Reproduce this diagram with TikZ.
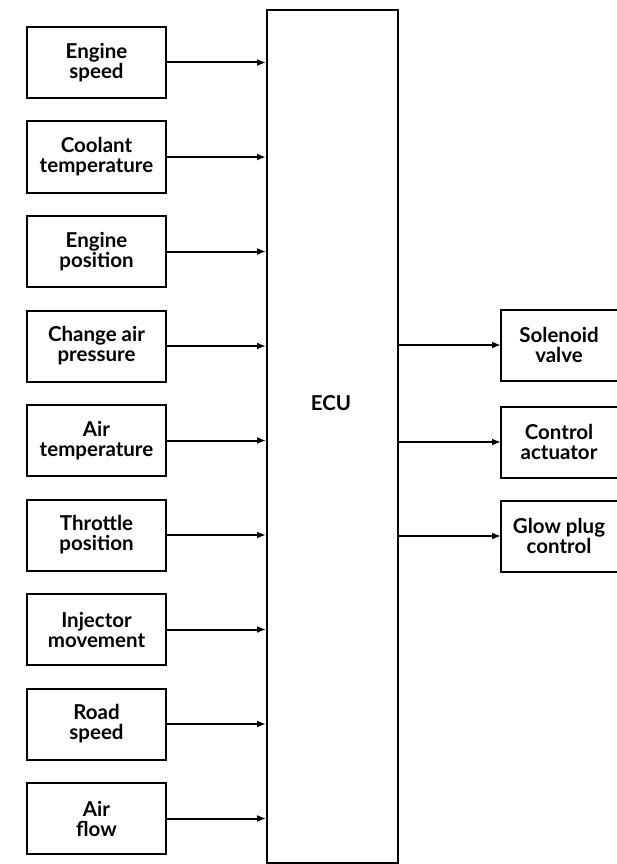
\documentclass[tikz,border=0pt]{standalone}
\usepackage{fontspec}
\setmainfont{Lato}[BoldFont={Lato Bold}]
\usetikzlibrary{arrows.meta}
\begin{document}
\begin{tikzpicture}[x=1pt,y=-1pt,
  inbox/.style={draw,line width=2pt,minimum width=139pt,minimum height=71pt,inner sep=0pt,align=center,font=\fontsize{20.5}{20}\selectfont\bfseries},
  outlbl/.style={align=center,font=\fontsize{20.5}{20}\selectfont\bfseries},
  conn/.style={line width=2pt,-{Latex[length=9pt,width=7pt]}},
  boxline/.style={line width=2pt}]
\useasboundingbox (0,0) rectangle (616,864);
% ECU
\node[draw,line width=2pt,minimum width=131pt,minimum height=853pt,inner sep=0pt,anchor=north west] (ecu) at (266,9) {};
\node[font=\fontsize{20.5}{20}\selectfont\bfseries] (ecul) at (331,403) {ECU};
% inputs
\foreach \i/\t in {0/{Engine\\speed},1/{Coolant\\temperature},2/{Engine\\position},3/{Change air\\pressure},4/{Air\\temperature},5/{Throttle\\position},6/{Injector\\movement},7/{Road\\speed},8/{Air\\flow}}{
  \node[inbox] (in\i) at (96.5,62.5+94.5*\i) {\t};
  \draw[conn] (in\i.east) -- (in\i.east -| ecu.west);
}
% outputs
\foreach \i/\y/\t in {1/345/{Solenoid\\valve},2/442/{Control\\actuator},3/536/{Glow plug\\control}}{
  \coordinate (ob\i) at (501,\y);
  \draw[boxline] (620,\y-35.5) -- (501,\y-35.5) -- (501,\y+35.5) -- (620,\y+35.5);
  \node[outlbl] (out\i) at (559,\y) {\t};
  \draw[conn] (ob\i -| ecu.east) -- (ob\i);
}
\end{tikzpicture}
\end{document}
